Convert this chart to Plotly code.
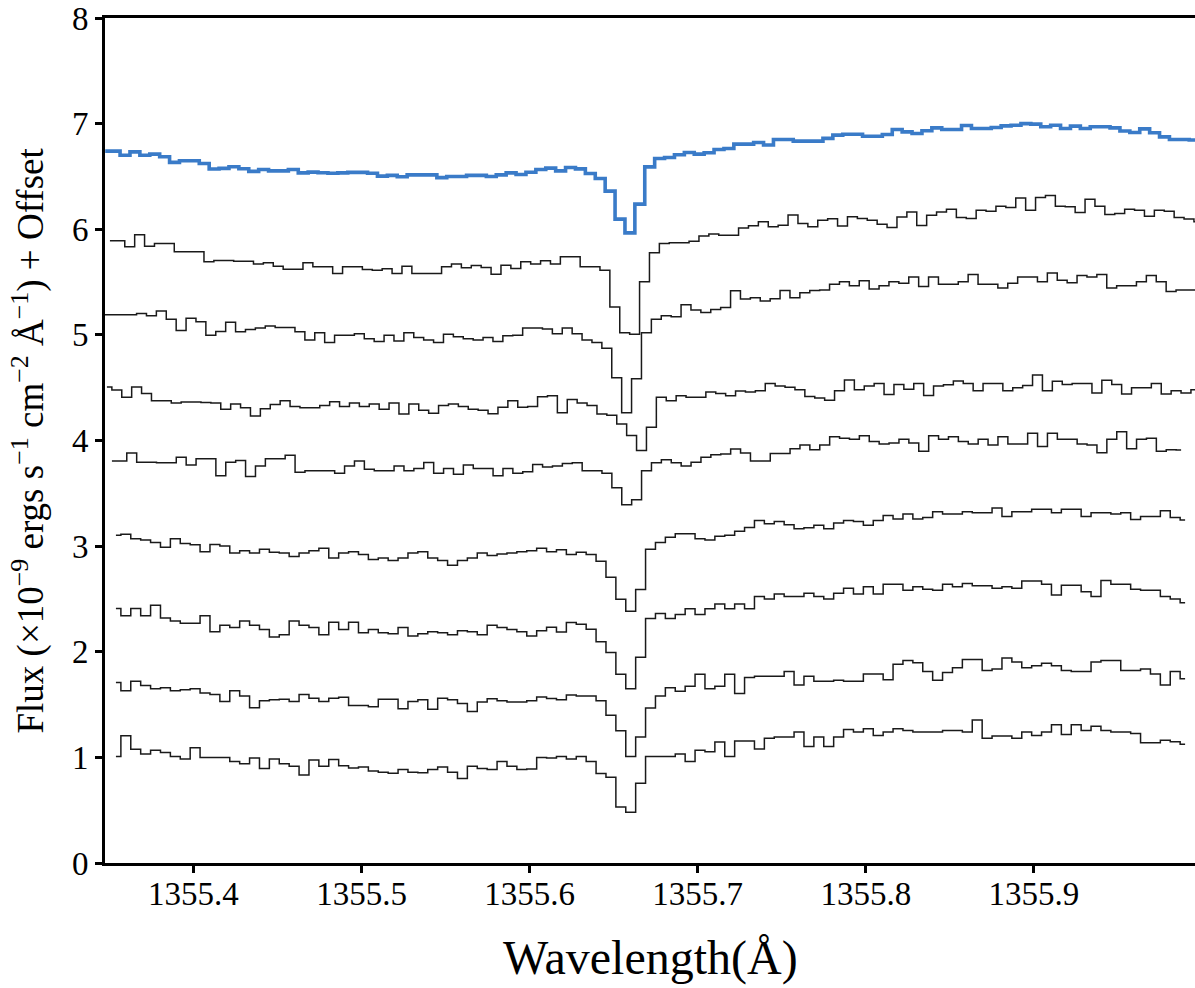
import numpy as np
import plotly.graph_objects as go

# Common bin width (Angstrom) of the extracted spectra
STEP = 0.005889

# Averaged spectrum (drawn in blue, on top)
mean_start = 1355.34753
mean_flux = [6.74, 6.74, 6.70, 6.733, 6.70, 6.711, 6.686, 6.633, 6.648, 6.648,
             6.623, 6.57, 6.576, 6.592, 6.573, 6.548, 6.566, 6.553, 6.553, 6.566,
             6.534, 6.541, 6.535, 6.53, 6.534, 6.538, 6.538, 6.53, 6.503, 6.51,
             6.497, 6.515, 6.515, 6.515, 6.489, 6.50, 6.50, 6.51, 6.51, 6.50,
             6.515, 6.534, 6.519, 6.54, 6.566, 6.579, 6.553, 6.585, 6.572, 6.528,
             6.481, 6.361, 6.096, 5.966, 6.238, 6.591, 6.67, 6.68, 6.705, 6.727,
             6.711, 6.724, 6.755, 6.765, 6.806, 6.806, 6.822, 6.797, 6.85, 6.85,
             6.834, 6.834, 6.834, 6.86, 6.891, 6.90, 6.90, 6.881, 6.881, 6.897,
             6.944, 6.922, 6.906, 6.932, 6.96, 6.944, 6.944, 6.982, 6.954, 6.954,
             6.963, 6.979, 6.985, 7.0, 6.995, 6.97, 6.985, 6.954, 6.976, 6.954,
             6.97, 6.97, 6.96, 6.93, 6.916, 6.95, 6.913, 6.875, 6.85, 6.85,
             6.845, 6.84]

# Individual exposures, each shifted by its plotting offset
exp1_start = 1355.35033
exp1_flux = [5.89, 5.89, 5.834, 5.947, 5.84, 5.865, 5.865, 5.786, 5.786, 5.786,
             5.692, 5.704, 5.704, 5.698, 5.698, 5.67, 5.682, 5.65, 5.622, 5.622,
             5.682, 5.644, 5.644, 5.581, 5.644, 5.644, 5.62, 5.613, 5.625, 5.581,
             5.65, 5.581, 5.581, 5.581, 5.644, 5.67, 5.635, 5.657, 5.638, 5.575,
             5.66, 5.628, 5.692, 5.67, 5.701, 5.67, 5.739, 5.739, 5.644, 5.644,
             5.613, 5.265, 5.02, 5.006, 5.502, 5.777, 5.865, 5.872, 5.872, 5.887,
             5.935, 5.954, 5.944, 5.944, 6.013, 6.032, 6.07, 6.023, 6.039, 6.134,
             6.055, 6.023, 6.086, 6.099, 6.03, 6.118, 6.101, 6.086, 6.048, 6.016,
             6.117, 6.164, 6.035, 6.133, 6.164, 6.19, 6.111, 6.101, 6.18, 6.171,
             6.218, 6.206, 6.297, 6.18, 6.30, 6.319, 6.218, 6.212, 6.158, 6.284,
             6.218, 6.139, 6.149, 6.19, 6.18, 6.123, 6.18, 6.171, 6.111, 6.098,
             6.07]

exp2_start = 1355.34557
exp2_flux = [5.19, 5.19, 5.19, 5.19, 5.203, 5.18, 5.226, 5.148, 5.042, 5.157,
             5.125, 4.996, 5.033, 5.12, 5.029, 5.051, 5.065, 5.084, 5.07, 5.07,
             5.029, 4.951, 5.02, 4.928, 4.997, 4.997, 5.01, 4.964, 4.937, 4.997,
             4.941, 5.02, 4.974, 4.951, 4.928, 5.006, 4.983, 4.964, 4.951, 4.974,
             4.937, 4.992, 4.997, 5.065, 5.065, 5.056, 5.01, 5.065, 5.01, 4.951,
             4.928, 4.873, 4.593, 4.263, 4.584, 5.02, 5.148, 5.18, 5.171, 5.285,
             5.235, 5.212, 5.24, 5.258, 5.418, 5.34, 5.352, 5.32, 5.343, 5.42,
             5.352, 5.398, 5.42, 5.425, 5.48, 5.503, 5.466, 5.512, 5.434, 5.466,
             5.503, 5.489, 5.549, 5.457, 5.549, 5.48, 5.48, 5.503, 5.572, 5.48,
             5.48, 5.443, 5.489, 5.549, 5.549, 5.503, 5.585, 5.517, 5.494, 5.563,
             5.549, 5.572, 5.443, 5.466, 5.466, 5.503, 5.563, 5.503, 5.411, 5.425,
             5.425, 5.42]

exp3_start = 1355.34854
exp3_flux = [4.506, 4.478, 4.41, 4.506, 4.446, 4.377, 4.377, 4.355, 4.364, 4.364,
             4.36, 4.355, 4.295, 4.346, 4.309, 4.231, 4.30, 4.341, 4.377, 4.323,
             4.309, 4.309, 4.332, 4.368, 4.323, 4.355, 4.323, 4.346, 4.295, 4.355,
             4.25, 4.346, 4.286, 4.258, 4.332, 4.346, 4.323, 4.295, 4.286, 4.254,
             4.314, 4.377, 4.314, 4.323, 4.414, 4.423, 4.263, 4.387, 4.355, 4.332,
             4.25, 4.24, 4.157, 4.048, 3.905, 4.125, 4.41, 4.377, 4.423, 4.41,
             4.41, 4.46, 4.446, 4.423, 4.469, 4.46, 4.47, 4.54, 4.517, 4.504,
             4.481, 4.417, 4.403, 4.38, 4.472, 4.572, 4.481, 4.517, 4.54, 4.435,
             4.531, 4.485, 4.54, 4.426, 4.517, 4.527, 4.563, 4.54, 4.47, 4.54,
             4.54, 4.47, 4.50, 4.52, 4.62, 4.47, 4.56, 4.53, 4.54, 4.54,
             4.45, 4.57, 4.53, 4.44, 4.50, 4.50, 4.54, 4.44, 4.47, 4.45,
             4.48]

exp4_start = 1355.35152
exp4_flux = [3.805, 3.805, 3.882, 3.795, 3.795, 3.79, 3.79, 3.841, 3.768, 3.828,
             3.828, 3.667, 3.795, 3.81, 3.658, 3.759, 3.828, 3.828, 3.86, 3.699,
             3.713, 3.713, 3.713, 3.69, 3.759, 3.805, 3.727, 3.713, 3.713, 3.759,
             3.713, 3.736, 3.791, 3.69, 3.736, 3.681, 3.768, 3.736, 3.736, 3.667,
             3.736, 3.69, 3.704, 3.773, 3.75, 3.759, 3.782, 3.79, 3.713, 3.713,
             3.69, 3.552, 3.392, 3.438, 3.713, 3.79, 3.818, 3.79, 3.759, 3.795,
             3.841, 3.864, 3.873, 3.919, 3.882, 3.807, 3.807, 3.876, 3.876, 3.921,
             3.958, 3.912, 3.958, 4.036, 4.022, 4.013, 4.045, 3.99, 3.967, 3.977,
             4.013, 3.977, 3.899, 4.045, 4.013, 4.036, 3.99, 3.967, 4.013, 3.958,
             4.036, 3.967, 3.967, 4.068, 3.944, 4.068, 4.013, 4.013, 3.967, 3.958,
             3.885, 4.013, 4.082, 3.921, 4.013, 4.022, 3.899, 3.912, 3.91]

# The four lower exposures share a slightly later grid
low_start = 1355.35390

exp5_flux = [3.103, 3.112, 3.071, 3.057, 3.035, 2.989, 3.071, 3.025, 3.012, 2.947,
             3.016, 3.002, 2.934, 2.957, 2.934, 2.97, 2.943, 2.934, 2.902, 2.934,
             2.957, 2.98, 2.888, 2.934, 2.947, 2.92, 2.874, 2.888, 2.865, 2.888,
             2.934, 2.947, 2.888, 2.865, 2.819, 2.865, 2.888, 2.934, 2.911, 2.925,
             2.934, 2.947, 2.957, 2.98, 2.947, 2.966, 2.92, 2.943, 2.92, 2.856,
             2.705, 2.498, 2.384, 2.59, 2.97, 3.035, 3.085, 3.117, 3.117, 3.071,
             3.057, 3.094, 3.103, 3.14, 3.177, 3.243, 3.211, 3.234, 3.202, 3.165,
             3.174, 3.197, 3.165, 3.22, 3.243, 3.234, 3.197, 3.243, 3.289, 3.257,
             3.303, 3.257, 3.27, 3.326, 3.303, 3.303, 3.326, 3.316, 3.316, 3.362,
             3.28, 3.326, 3.326, 3.349, 3.349, 3.316, 3.349, 3.349, 3.28, 3.316,
             3.316, 3.303, 3.316, 3.252, 3.28, 3.28, 3.335, 3.271, 3.248]

exp6_flux = [2.41, 2.34, 2.41, 2.34, 2.44, 2.32, 2.29, 2.27, 2.27, 2.34,
             2.19, 2.25, 2.23, 2.29, 2.25, 2.21, 2.14, 2.16, 2.29, 2.25,
             2.23, 2.16, 2.28, 2.21, 2.28, 2.18, 2.21, 2.18, 2.17, 2.23,
             2.15, 2.17, 2.19, 2.18, 2.16, 2.20, 2.19, 2.16, 2.25, 2.23,
             2.21, 2.19, 2.15, 2.20, 2.232, 2.186, 2.278, 2.26, 2.214, 2.095,
             1.994, 1.788, 1.65, 1.948, 2.315, 2.361, 2.315, 2.352, 2.407, 2.352,
             2.407, 2.452, 2.407, 2.452, 2.407, 2.523, 2.50, 2.546, 2.523, 2.523,
             2.555, 2.523, 2.50, 2.555, 2.601, 2.546, 2.615, 2.546, 2.638, 2.638,
             2.583, 2.615, 2.592, 2.583, 2.638, 2.615, 2.647, 2.624, 2.624, 2.601,
             2.615, 2.601, 2.67, 2.67, 2.638, 2.537, 2.629, 2.629, 2.569, 2.523,
             2.675, 2.638, 2.638, 2.592, 2.583, 2.583, 2.523, 2.50, 2.464]

exp7_flux = [1.71, 1.63, 1.72, 1.68, 1.65, 1.66, 1.63, 1.64, 1.65, 1.61,
             1.595, 1.53, 1.63, 1.58, 1.47, 1.535, 1.545, 1.55, 1.53, 1.595,
             1.56, 1.53, 1.56, 1.57, 1.49, 1.49, 1.48, 1.55, 1.55, 1.46,
             1.53, 1.545, 1.455, 1.56, 1.545, 1.51, 1.435, 1.525, 1.555, 1.535,
             1.525, 1.525, 1.535, 1.572, 1.558, 1.545, 1.59, 1.581, 1.581, 1.535,
             1.398, 1.251, 1.008, 1.192, 1.467, 1.581, 1.659, 1.627, 1.673, 1.788,
             1.65, 1.673, 1.788, 1.604, 1.756, 1.767, 1.767, 1.767, 1.813, 1.685,
             1.767, 1.721, 1.721, 1.731, 1.721, 1.721, 1.79, 1.79, 1.735, 1.882,
             1.918, 1.895, 1.813, 1.731, 1.804, 1.849, 1.927, 1.927, 1.822, 1.836,
             1.941, 1.904, 1.849, 1.868, 1.891, 1.868, 1.822, 1.813, 1.813, 1.904,
             1.918, 1.918, 1.822, 1.822, 1.836, 1.79, 1.685, 1.813, 1.744]

exp8_flux = [1.008, 1.205, 1.077, 1.031, 1.068, 1.045, 1.008, 0.985, 1.091, 0.999,
             0.999, 0.999, 0.962, 0.939, 0.995, 0.894, 0.985, 0.939, 0.916, 0.834,
             0.976, 0.916, 0.98, 0.92, 0.90, 0.91, 0.87, 0.86, 0.85, 0.885,
             0.86, 0.855, 0.885, 0.91, 0.86, 0.80, 0.915, 0.895, 0.885, 0.96,
             0.915, 0.885, 0.89, 1.0, 0.995, 1.008, 0.985, 1.008, 0.962, 0.848,
             0.811, 0.53, 0.48, 0.756, 1.008, 1.008, 1.008, 1.031, 0.962, 1.068,
             1.054, 1.146, 1.008, 1.155, 1.155, 1.08, 1.18, 1.194, 1.194, 1.24,
             1.103, 1.194, 1.103, 1.194, 1.263, 1.24, 1.272, 1.208, 1.24, 1.272,
             1.254, 1.24, 1.24, 1.24, 1.254, 1.254, 1.24, 1.355, 1.18, 1.203,
             1.203, 1.18, 1.24, 1.208, 1.24, 1.309, 1.217, 1.309, 1.254, 1.295,
             1.254, 1.24, 1.24, 1.226, 1.139, 1.139, 1.162, 1.148, 1.125]

x_ticks = [1355.4, 1355.5, 1355.6, 1355.7, 1355.8, 1355.9]
y_ticks = [0, 1, 2, 3, 4, 5, 6, 7, 8]
x_range = [1355.3474, 1355.9958]
y_range = [0, 8]

exposures = [
    (exp1_start, exp1_flux), (exp2_start, exp2_flux),
    (exp3_start, exp3_flux), (exp4_start, exp4_flux),
    (low_start, exp5_flux), (low_start, exp6_flux),
    (low_start, exp7_flux), (low_start, exp8_flux),
]


def grid(start, values):
    return start + STEP * np.arange(len(values))


fig = go.Figure()
for start, flux in exposures:
    fig.add_trace(go.Scatter(
        x=grid(start, flux), y=flux, mode="lines",
        line=dict(shape="hvh", color="#1a1a1a", width=1.5),
        showlegend=False, hoverinfo="skip"))

fig.add_trace(go.Scatter(
    x=grid(mean_start, mean_flux), y=mean_flux, mode="lines",
    line=dict(shape="hvh", color="#3a7bc8", width=3.6),
    showlegend=False, hoverinfo="skip"))

serif = "Liberation Serif, DejaVu Serif, serif"

fig.update_layout(
    width=1195, height=988,
    margin=dict(l=105, r=0, t=18, b=125),
    paper_bgcolor="white", plot_bgcolor="white",
    font=dict(family=serif, color="black"),
    showlegend=False,
    xaxis=dict(
        range=x_range, tickvals=x_ticks,
        ticktext=[f"{v:.1f}" for v in x_ticks],
        showgrid=False, zeroline=False,
        showline=True, linecolor="black", linewidth=3, mirror=True,
        ticks="outside", ticklen=7, tickwidth=2.5, tickcolor="black",
        ticklabelstandoff=-8,
        tickfont=dict(family=serif, size=33, color="black"),
    ),
    yaxis=dict(
        range=y_range, tickvals=y_ticks,
        ticktext=[str(v) for v in y_ticks],
        showgrid=False, zeroline=False,
        showline=True, linecolor="black", linewidth=3, mirror=False,
        ticks="outside", ticklen=7, tickwidth=2.5, tickcolor="black",
        tickfont=dict(family=serif, size=33, color="black"),
    ),
    annotations=[
        dict(text="Wavelength(Å)", xref="paper", yref="paper",
             x=0.5, y=-0.113, xanchor="center", yanchor="middle",
             showarrow=False, font=dict(family=serif, size=48, color="black")),
        dict(text="Flux (×10<sup>−9</sup> ergs s<sup>−1</sup> cm<sup>−2</sup> "
                  "Å<sup>−1</sup>) + Offset",
             xref="paper", yref="paper", x=-0.0706, y=0.5,
             xanchor="center", yanchor="middle", textangle=-90,
             showarrow=False, font=dict(family=serif, size=37, color="black")),
    ],
)

fig.write_html("out.html", config={"displayModeBar": False})
